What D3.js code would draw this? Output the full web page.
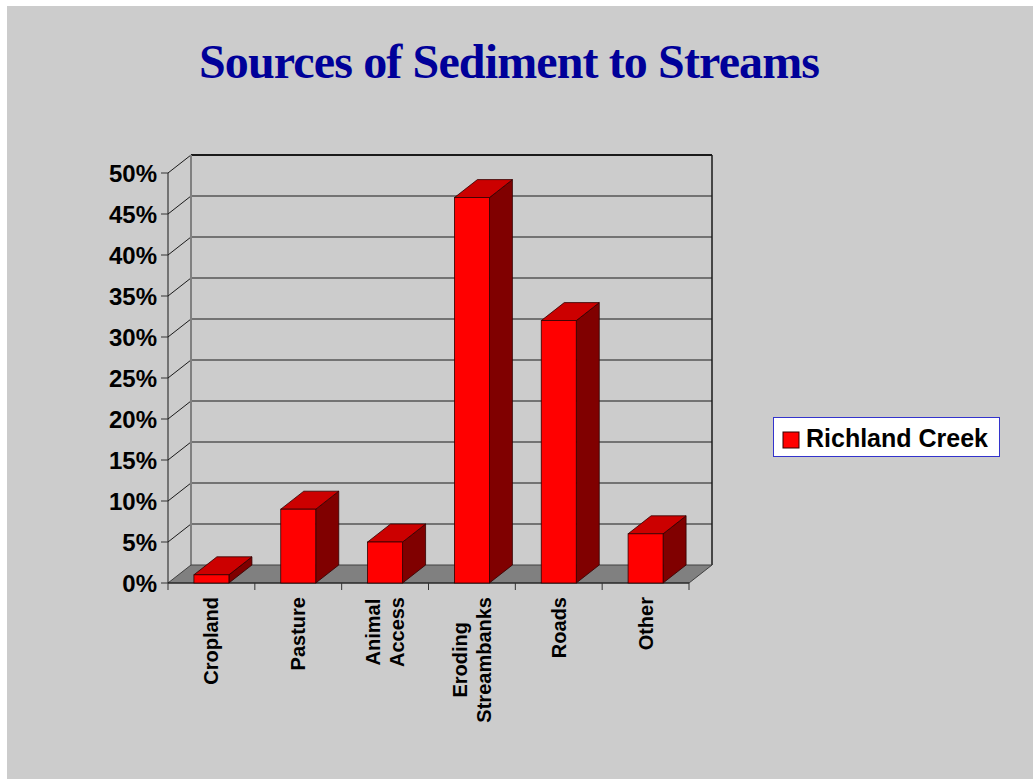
<!DOCTYPE html>
<html>
<head>
<meta charset="utf-8">
<script src="https://cdn.jsdelivr.net/npm/d3@7"></script>
<style>
  html, body { margin: 0; padding: 0; background: #ffffff; }
  svg { display: block; }
</style>
</head>
<body>
<script>
// ---- Data ----
const categories = ["Cropland", "Pasture", "Animal Access", "Eroding Streambanks", "Roads", "Other"];
const categoryLines = [["Cropland"], ["Pasture"], ["Animal", "Access"], ["Eroding", "Streambanks"], ["Roads"], ["Other"]];
const seriesName = "Richland Creek";
const values = [1, 9, 5, 47, 32, 6];
const yTicks = [0, 5, 10, 15, 20, 25, 30, 35, 40, 45, 50];
const yTickLabels = yTicks.map(d => d + "%");
const title = "Sources of Sediment to Streams";

// ---- Layout ----
const W = 1033, H = 779;
const frontLeft = 168, frontRight = 689;
const yBottom = 583, yTop = 173;
const DX = 23, DY = 18;

const svg = d3.select("body").append("svg").attr("width", W).attr("height", H);

svg.append("rect").attr("x", 0).attr("y", 0).attr("width", W).attr("height", H).attr("fill", "#ffffff");
svg.append("rect").attr("x", 7).attr("y", 6).attr("width", W - 7).attr("height", H - 6).attr("fill", "#cccccc");

const x = d3.scaleBand().domain(categories).range([frontLeft, frontRight]).paddingInner(0).paddingOuter(0);
const y = d3.scaleLinear().domain([0, 50]).range([yBottom, yTop]);

// Title
svg.append("text")
  .attr("x", 199).attr("y", 78)
  .attr("textLength", 621).attr("lengthAdjust", "spacing")
  .attr("font-family", "'Liberation Serif', 'Times New Roman', serif")
  .attr("font-weight", "bold").attr("font-size", 48)
  .attr("fill", "#000099")
  .text(title);

const g = svg.append("g");

// Back wall
g.append("rect")
  .attr("x", frontLeft + DX).attr("y", y(50) - DY)
  .attr("width", frontRight - frontLeft).attr("height", y(0) - y(50))
  .attr("fill", "#cccccc");

// Back wall gridlines
g.selectAll("line.grid").data(yTicks.filter(d => d > 0)).join("line")
  .attr("class", "grid")
  .attr("x1", frontLeft + DX).attr("x2", frontRight + DX)
  .attr("y1", d => y(d) - DY).attr("y2", d => y(d) - DY)
  .attr("stroke", "#1a1a1a").attr("stroke-width", d => d === 50 ? 2 : 1);

// Left wall diagonals
g.selectAll("line.diag").data(yTicks.filter(d => d > 0)).join("line")
  .attr("class", "diag")
  .attr("x1", frontLeft).attr("x2", frontLeft + DX)
  .attr("y1", d => y(d)).attr("y2", d => y(d) - DY)
  .attr("stroke", "#1a1a1a").attr("stroke-width", 1);

// Back-left corner vertical (gray)
g.append("line")
  .attr("x1", frontLeft + DX).attr("x2", frontLeft + DX)
  .attr("y1", y(50) - DY).attr("y2", y(0) - DY)
  .attr("stroke", "#808080").attr("stroke-width", 2);

// Right edge of back wall
g.append("line")
  .attr("x1", frontRight + DX).attr("x2", frontRight + DX)
  .attr("y1", y(50) - DY).attr("y2", y(0) - DY)
  .attr("stroke", "#1a1a1a").attr("stroke-width", 1.5);

// Floor
const floorPts = [[frontLeft, y(0)], [frontLeft + DX, y(0) - DY], [frontRight + DX, y(0) - DY], [frontRight, y(0)]];
g.append("polygon")
  .attr("points", floorPts.map(p => p.join(",")).join(" "))
  .attr("fill", "#808080").attr("stroke", "#404040").attr("stroke-width", 1);

// Front-left axis
g.append("line")
  .attr("x1", frontLeft).attr("x2", frontLeft)
  .attr("y1", y(50)).attr("y2", y(0))
  .attr("stroke", "#1a1a1a").attr("stroke-width", 1);

// Y ticks and labels
g.selectAll("line.ytick").data(yTicks).join("line")
  .attr("class", "ytick")
  .attr("x1", frontLeft - 7).attr("x2", frontLeft)
  .attr("y1", d => y(d)).attr("y2", d => y(d))
  .attr("stroke", "#333").attr("stroke-width", 1);

g.selectAll("text.ylab").data(yTicks).join("text")
  .attr("class", "ylab")
  .attr("x", 157).attr("y", d => y(d) + 8.5)
  .attr("text-anchor", "end")
  .attr("font-family", "'Liberation Sans', Arial, sans-serif")
  .attr("font-weight", "bold").attr("font-size", 24)
  .attr("fill", "#000")
  .text((d, i) => yTickLabels[i]);

// Front bottom edge + x ticks
g.append("line")
  .attr("x1", frontLeft).attr("x2", frontRight)
  .attr("y1", y(0)).attr("y2", y(0))
  .attr("stroke", "#1a1a1a").attr("stroke-width", 1);

const tickXs = categories.map(c => x(c)).concat([frontRight]);
g.selectAll("line.xtick").data(tickXs).join("line")
  .attr("class", "xtick")
  .attr("x1", d => d).attr("x2", d => d)
  .attr("y1", y(0)).attr("y2", y(0) + 7)
  .attr("stroke", "#333").attr("stroke-width", 1);

// Bars
const barW = 35;
const bars = g.selectAll("g.bar").data(categories).join("g").attr("class", "bar");
bars.each(function(c, i) {
  const cx = x(c) + x.bandwidth() / 2;
  const x0 = cx - barW / 2, x1 = cx + barW / 2;
  const yt = y(values[i]), yb = y(0);
  const sel = d3.select(this);
  const stroke = "#300000";
  sel.append("polygon")
    .attr("points", [[x1, yt], [x1 + DX, yt - DY], [x1 + DX, yb - DY], [x1, yb]].map(p => p.join(",")).join(" "))
    .attr("fill", "#800000").attr("stroke", stroke).attr("stroke-width", 0.8);
  sel.append("polygon")
    .attr("points", [[x0, yt], [x0 + DX, yt - DY], [x1 + DX, yt - DY], [x1, yt]].map(p => p.join(",")).join(" "))
    .attr("fill", "#cc0000").attr("stroke", stroke).attr("stroke-width", 0.8);
  sel.append("rect")
    .attr("x", x0).attr("y", yt).attr("width", barW).attr("height", yb - yt)
    .attr("fill", "#ff0000").attr("stroke", stroke).attr("stroke-width", 0.8);
});

// Category labels (rotated)
const lineGap = 24;
categories.forEach((c, i) => {
  const lines = categoryLines[i];
  const cx = x(c) + x.bandwidth() / 2;
  const tg = g.append("g");
  const texts = lines.map(l => tg.append("text")
    .attr("font-family", "'Liberation Sans', Arial, sans-serif")
    .attr("font-weight", "bold").attr("font-size", 20)
    .attr("fill", "#000")
    .attr("text-anchor", "middle")
    .text(l));
  const maxLen = d3.max(texts, t => t.node().getComputedTextLength());
  const yc = 597 + maxLen / 2;
  const n = lines.length;
  texts.forEach((t, k) => {
    const capCenter = cx + (k - (n - 1) / 2) * lineGap;
    const bx = capCenter + 7;
    t.attr("transform", `translate(${bx},${yc}) rotate(-90)`).attr("x", 0).attr("y", 0);
  });
});

// Legend
const lg = svg.append("g");
lg.append("rect").attr("x", 773.5).attr("y", 417.5).attr("width", 226).attr("height", 39)
  .attr("fill", "#ffffff").attr("stroke", "#3333cc").attr("stroke-width", 1);
lg.append("rect").attr("x", 783).attr("y", 432).attr("width", 16).attr("height", 16)
  .attr("fill", "#ff0000").attr("stroke", "#300000").attr("stroke-width", 1);
lg.append("text").attr("x", 806).attr("y", 447)
  .attr("font-family", "'Liberation Sans', Arial, sans-serif")
  .attr("font-weight", "bold").attr("font-size", 25)
  .attr("fill", "#000")
  .text(seriesName);
</script>
</body>
</html>
